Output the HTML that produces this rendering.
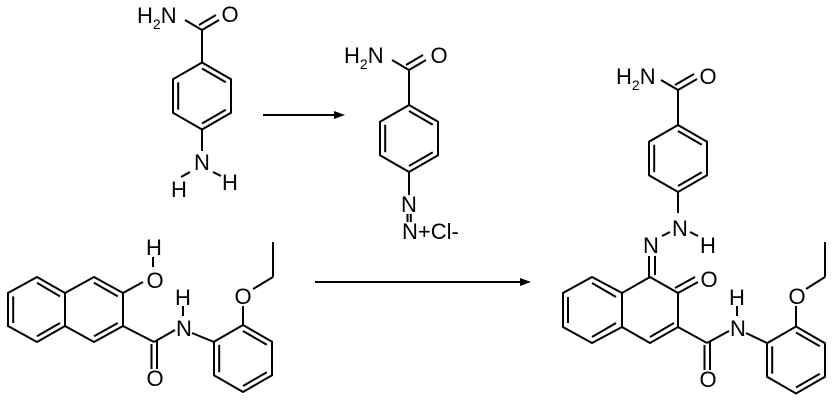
<!DOCTYPE html>
<html><head><meta charset="utf-8"><style>
html,body{margin:0;padding:0;background:#fff;}
svg{display:block;}
text{font-family:"Liberation Sans",Arial,sans-serif;font-size:22px;fill:#000;}
</style></head><body>
<svg width="835" height="404" viewBox="0 0 835 404" xmlns="http://www.w3.org/2000/svg">
<defs>
<g id="ring" stroke="#000" stroke-width="2" fill="none" stroke-linejoin="miter">
<polygon points="0,-33.5 29,-16.75 29,16.75 0,33.5 -29,16.75 -29,-16.75"/>
<line x1="0" y1="-27.5" x2="23.8" y2="-13.7"/>
<line x1="-23.8" y1="-13.7" x2="-23.8" y2="13.7"/>
<line x1="23.8" y1="13.7" x2="0" y2="27.5"/>
</g>
</defs>
<g stroke="#000" stroke-width="2" fill="none">
<use href="#ring" x="202" y="96"/>
<line x1="202" y1="62.5" x2="202" y2="30"/>
<line x1="202" y1="30" x2="185" y2="20"/>
<line x1="202" y1="30" x2="219" y2="20"/>
<line x1="199" y1="25" x2="216" y2="15"/>
<line x1="202" y1="129.5" x2="202" y2="151"/>
<line x1="181" y1="177" x2="190" y2="172"/>
<line x1="213" y1="172" x2="221" y2="176"/>
<line x1="263" y1="115" x2="338" y2="115"/>
<use href="#ring" x="409" y="138.5"/>
<line x1="409" y1="105" x2="409" y2="70"/>
<line x1="409" y1="70" x2="392" y2="60"/>
<line x1="409" y1="70" x2="426" y2="60"/>
<line x1="406" y1="65" x2="423" y2="55"/>
<line x1="409" y1="172" x2="409" y2="195"/>
<line x1="407.5" y1="214" x2="407.5" y2="222"/>
<line x1="410.8" y1="214" x2="410.8" y2="222"/>
<line x1="315" y1="282" x2="523" y2="282"/>
<polygon points="37,277 65,293 65,326 37,342 8,326 8,293"/>
<polyline points="65,293 94,277 123,293 123,326 94,342 65,326"/>
<line x1="37" y1="282.8" x2="60" y2="296.4"/>
<line x1="13.2" y1="296.4" x2="13.2" y2="323"/>
<line x1="37" y1="336.2" x2="60" y2="323"/>
<line x1="94" y1="282.8" x2="117.8" y2="296.4"/>
<line x1="94" y1="336.2" x2="117.8" y2="323"/>
<line x1="123" y1="293" x2="143" y2="282"/>
<line x1="153" y1="257" x2="153" y2="267"/>
<line x1="123" y1="326" x2="154" y2="342"/>
<line x1="154" y1="342" x2="175" y2="330"/>
<line x1="151.5" y1="344" x2="151.5" y2="369"/>
<line x1="157" y1="340" x2="157" y2="369"/>
<line x1="183" y1="306" x2="183" y2="316"/>
<line x1="192" y1="333" x2="214" y2="342"/>
<use href="#ring" x="243" y="358.5"/>
<line x1="243" y1="325" x2="243" y2="306"/>
<line x1="253" y1="289" x2="273" y2="277"/>
<line x1="273" y1="277" x2="273" y2="242"/>
<use href="#ring" x="678" y="158.5"/>
<line x1="678" y1="125" x2="678" y2="90"/>
<line x1="678" y1="90" x2="661" y2="80"/>
<line x1="678" y1="90" x2="697" y2="79"/>
<line x1="675" y1="85" x2="694" y2="74"/>
<line x1="678" y1="192" x2="678" y2="213"/>
<line x1="690" y1="232" x2="698" y2="236"/>
<line x1="662" y1="236" x2="670" y2="232"/>
<line x1="649" y1="256" x2="649" y2="277"/>
<line x1="655" y1="256" x2="655" y2="275"/>
<polygon points="592,277 622,293 622,327 592,343 563,327 563,293"/>
<polyline points="622,293 650,277 678,293 678,327 650,343 622,327"/>
<line x1="592" y1="283" x2="616" y2="297"/>
<line x1="568" y1="297" x2="568" y2="323"/>
<line x1="592" y1="337" x2="616" y2="323"/>
<line x1="650" y1="337" x2="674" y2="323"/>
<line x1="678" y1="293" x2="698" y2="282"/>
<line x1="675" y1="288" x2="695" y2="277"/>
<line x1="678" y1="327" x2="707" y2="343"/>
<line x1="707" y1="343" x2="729" y2="331"/>
<line x1="704.5" y1="345" x2="704.5" y2="370"/>
<line x1="710" y1="341" x2="710" y2="370"/>
<line x1="737" y1="306" x2="737" y2="316"/>
<line x1="746" y1="333" x2="767" y2="343"/>
<use href="#ring" x="796" y="360"/>
<line x1="796" y1="326.5" x2="796" y2="306"/>
<line x1="806" y1="289" x2="825" y2="277"/>
<line x1="825" y1="277" x2="825" y2="242"/>
</g>
<polygon points="345,115 334,111 334,119" fill="#000"/>
<polygon points="531,282 520,278 520,286" fill="#000"/>
<text x="137" y="23">H<tspan font-size="14" dy="6">2</tspan><tspan dy="-6">N</tspan></text>
<text x="230" y="22" text-anchor="middle">O</text>
<text x="202" y="170" text-anchor="middle">N</text>
<text x="179" y="197" text-anchor="middle">H</text>
<text x="230" y="190" text-anchor="middle">H</text>
<text x="344" y="63">H<tspan font-size="14" dy="6">2</tspan><tspan dy="-6">N</tspan></text>
<text x="439" y="63" text-anchor="middle">O</text>
<text x="409" y="212" text-anchor="middle">N</text>
<text x="402" y="239">N+Cl-</text>
<text x="154" y="255" text-anchor="middle">H</text>
<text x="155" y="288" text-anchor="middle">O</text>
<text x="183" y="305" text-anchor="middle">H</text>
<text x="184" y="336" text-anchor="middle">N</text>
<text x="155" y="386" text-anchor="middle">O</text>
<text x="243" y="304" text-anchor="middle">O</text>
<text x="616" y="84">H<tspan font-size="14" dy="6">2</tspan><tspan dy="-6">N</tspan></text>
<text x="708" y="84" text-anchor="middle">O</text>
<text x="680" y="236" text-anchor="middle">N</text>
<text x="708" y="253" text-anchor="middle">H</text>
<text x="651" y="253" text-anchor="middle">N</text>
<text x="709" y="287" text-anchor="middle">O</text>
<text x="737" y="305" text-anchor="middle">H</text>
<text x="738" y="336" text-anchor="middle">N</text>
<text x="708" y="387" text-anchor="middle">O</text>
<text x="797" y="304" text-anchor="middle">O</text>
</svg>
</body></html>
